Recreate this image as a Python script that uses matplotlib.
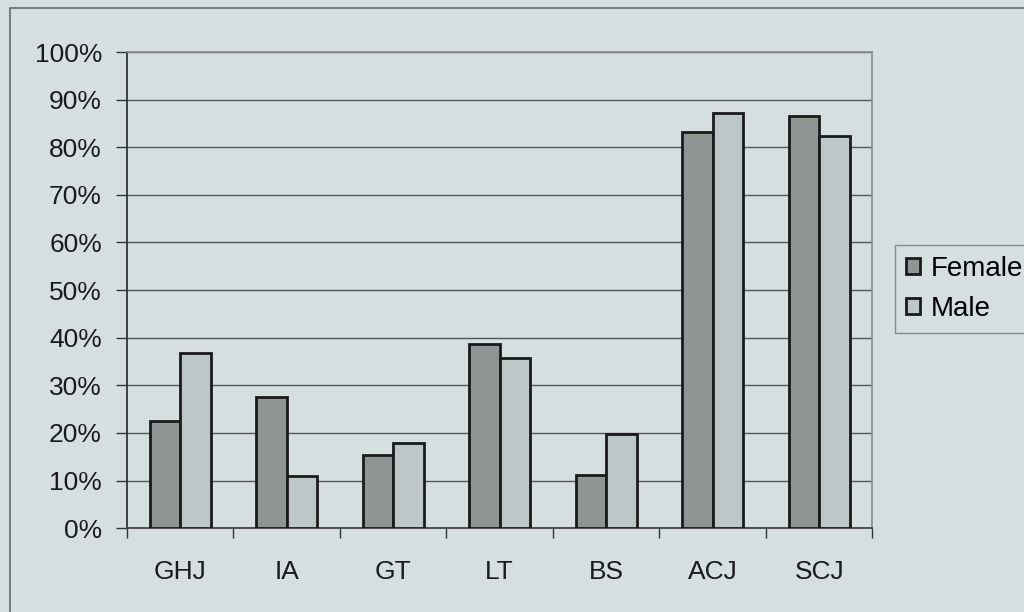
import matplotlib.pyplot as plt
import matplotlib.patches as mpatches
import numpy as np

plt.rcParams['font.family'] = ['Liberation Sans', 'DejaVu Sans']

# survey shares by group
categories = ['GHJ', 'IA', 'GT', 'LT', 'BS', 'ACJ', 'SCJ']
female = [22.5, 27.5, 15.3, 38.7, 11.1, 83.2, 86.6]
male = [36.8, 11.0, 17.9, 35.7, 19.8, 87.2, 82.4]

bg = '#d5dfe0'
c_female = '#8e9594'
c_male = '#bdc7c8'

fig = plt.figure(figsize=(10.24, 6.12), dpi=100, facecolor=bg)
ax = fig.add_axes([0.124, 0.137, 0.728, 0.778], facecolor=bg)

x = np.arange(len(categories))
w = 0.286
ax.bar(x - w / 2, female, w, color=c_female, edgecolor='#1a1a1a', linewidth=2,
       label='Female', zorder=3)
ax.bar(x + w / 2, male, w, color=c_male, edgecolor='#1a1a1a', linewidth=2,
       label='Male', zorder=3)

ax.set_xlim(-0.5, len(categories) - 0.5)
ax.set_ylim(0, 100)
ax.set_yticks(np.arange(0, 101, 10))
ax.set_yticklabels([f'{v}%' for v in range(0, 101, 10)], fontsize=19, color='#1a1a1a')
ax.set_xticks(x)
ax.set_xticklabels(categories, fontsize=19, color='#1a1a1a')
ax.set_xticks(np.arange(-0.5, len(categories), 1), minor=True)
ax.tick_params(axis='x', which='major', length=0, pad=23)
ax.tick_params(axis='x', which='minor', length=7, width=1, color='#333333', direction='out')
ax.tick_params(axis='y', length=8, width=1, color='#333333', pad=10)

ax.grid(axis='y', color='#555555', linewidth=1, zorder=0)
for side in ['top', 'right']:
    ax.spines[side].set_color('#8a8a8a')
    ax.spines[side].set_linewidth(1.2)
ax.spines['left'].set_color('#333333')
ax.spines['left'].set_linewidth(1.3)
ax.spines['bottom'].set_color('#444444')
ax.spines['bottom'].set_linewidth(1.3)

leg = fig.legend(loc='upper left', bbox_to_anchor=(0.874, 0.6), borderaxespad=0,
                 fontsize=20, frameon=True, fancybox=False, handlelength=0.5,
                 handleheight=0.5, handletextpad=0.4, labelspacing=0.5, borderpad=0.4)
leg.get_frame().set_facecolor(bg)
leg.get_frame().set_edgecolor('#777777')
leg.get_frame().set_linewidth(1)

# outer chart frame
fig.patches.append(mpatches.Rectangle((0.01, -0.1), 1.2, 1.087, transform=fig.transFigure,
                                      fill=False, edgecolor='#6a6a6a', linewidth=1.2))

fig.savefig('out.png', dpi=100, facecolor=bg)
